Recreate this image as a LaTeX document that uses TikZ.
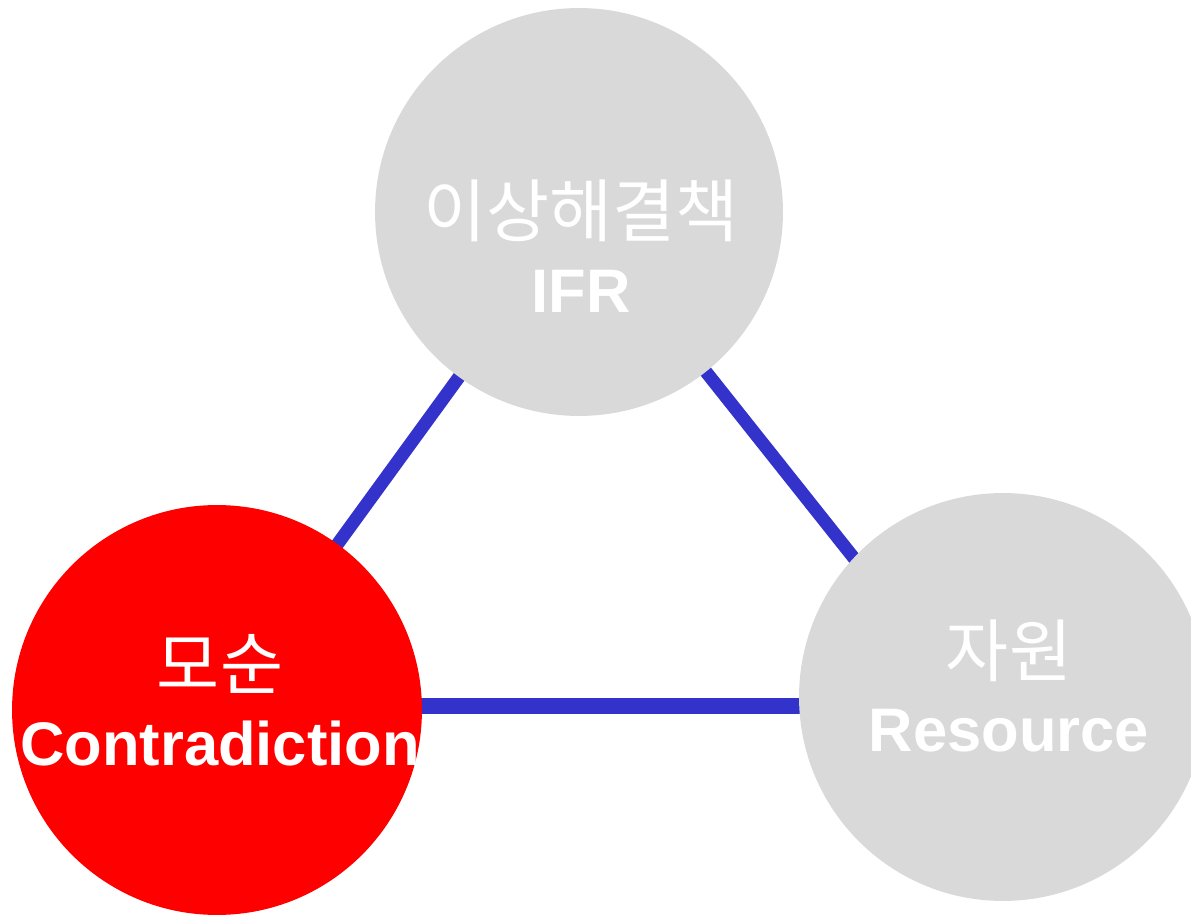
\documentclass[tikz,border=0pt]{standalone}
\usepackage{fontspec}
\setmainfont{Liberation Sans}
\newfontfamily\krfont{Noto Sans CJK KR}
\usetikzlibrary{positioning}
\pgfdeclarelayer{back}
\pgfsetlayers{back,main}
\definecolor{ballgrey}{HTML}{D9D9D9}
\definecolor{linkblue}{HTML}{3333CC}
\newcommand{\krtext}[1]{{\krfont\fontsize{39}{43}\selectfont #1}}

\begin{document}
\begin{tikzpicture}[x=0.02cm, y=-0.02cm,
  ball/.style={circle, minimum size=8.16cm, inner sep=0pt},
  balltext/.style={text=white, align=center, inner sep=0pt, font=\fontsize{35}{43}\selectfont},
  link/.style={draw=linkblue, line width=0.26cm}
]
\useasboundingbox (0,0) rectangle (1191,915);
\node[ball, fill=ballgrey] (ifr) at (579,212) {};
\node[ball, fill=red, minimum size=8.2cm] (con) at (217,710) {};
\node[ball, fill=ballgrey] (res) at (1003,697) {};
\node[balltext] (ifrtxt) at (581,246) {\krtext{이상해결책}\\\textbf{IFR}};
\node[balltext] (contxt) at (220,700) {\krtext{모순}\\\textbf{Contradiction}};
\node[balltext] (restxt) at (1009,686) {\krtext{자원}\\\textbf{Resource}};
\begin{pgfonlayer}{back}
\draw[link, shorten >=-0.3cm] (ifr.center) -- (con.54);
\draw[link, shorten >=-0.3cm] (ifr.center) -- (res.137);
\draw[link, line width=0.32cm, shorten <=-0.3cm, shorten >=-0.3cm] (con.1.7) -- (con.1.7 -| res.west);
\end{pgfonlayer}
\end{tikzpicture}
\end{document}
